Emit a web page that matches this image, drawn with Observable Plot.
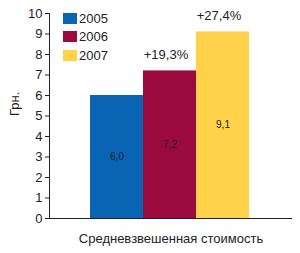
<!DOCTYPE html>
<html><head><meta charset="utf-8">
<script src="https://cdn.jsdelivr.net/npm/d3@7"></script>
<script src="https://cdn.jsdelivr.net/npm/@observablehq/plot@0.6"></script>
<style>
body{margin:0;background:#fff;}
#wrap{position:relative;width:300px;height:253px;font-family:"Liberation Sans Narrow","Arial Narrow","Liberation Sans",sans-serif;}
#legend{position:absolute;left:63px;top:9px;font-size:13px;color:#222;}
#legend div{display:flex;align-items:center;height:18.5px;}
#legend span.sw{display:inline-block;width:14px;height:11px;margin-right:2px;}
</style>
</head><body>
<div id="wrap"><div id="legend"></div></div>
<script>
const years = ["2005", "2006", "2007"];
const values = [6.0, 7.2, 9.1];
const valueLabels = ["6,0", "7,2", "9,1"];
const growthLabels = ["", "+19,3%", "+27,4%"];
const colors = ["#0A64B4", "#9A0A3C", "#FFD24A"];
const category = "Средневзвешенная стоимость";
const yTicks = [0,1,2,3,4,5,6,7,8,9,10];
const yLabel = "Грн.";

const data = years.map((y, i) => ({year: y, value: values[i], label: valueLabels[i], growth: growthLabels[i]}));

const chart = Plot.plot({
  width: 300,
  height: 253,
  marginLeft: 49,
  marginRight: 8,
  marginTop: 13,
  marginBottom: 35,
  style: {fontFamily: '"Liberation Sans Narrow","Arial Narrow","Liberation Sans",sans-serif', fontSize: "13px", color: "#222", background: "#fff"},
  x: {domain: years, range: [89, 250], padding: 0, axis: null},
  y: {domain: [0, 10], ticks: yTicks, tickSize: 4, tickPadding: 3, tickFormat: d => d, line: true, label: null},
  color: {domain: years, range: colors},
  marks: [
    Plot.barY(data, {x: "year", y: "value", fill: "year"}),
    Plot.text(data, {x: "year", y: d => d.value / 2, text: "label", fontSize: 10, fill: "#222"}),
    Plot.text(data, {x: "year", y: "value", text: "growth", dy: -16, dx: -4, fontSize: 13, fill: "#222"}),
    Plot.ruleY([0], {stroke: "#222"}),
    Plot.text([category], {frameAnchor: "bottom", dy: 24, text: d => d, fontSize: 13, fill: "#222"}),
    Plot.text([yLabel], {frameAnchor: "left", dx: -35, rotate: -90, text: d => d, fontSize: 13, fill: "#222"}),
    Plot.tickX([0], {x: () => null, render: (I, scales, values, dims) => {
      const s = d3.create("svg:line")
        .attr("x1", dims.width - dims.marginRight).attr("x2", dims.width - dims.marginRight)
        .attr("y1", dims.height - dims.marginBottom).attr("y2", dims.height - dims.marginBottom + 5)
        .attr("stroke", "#222");
      return s.node();
    }})
  ]
});
document.getElementById("wrap").prepend(chart);
const lg = document.getElementById("legend");
years.forEach((y, i) => {
  const row = document.createElement("div");
  row.innerHTML = `<span class="sw" style="background:${colors[i]}"></span>${y}`;
  lg.appendChild(row);
});
</script>
</body></html>
